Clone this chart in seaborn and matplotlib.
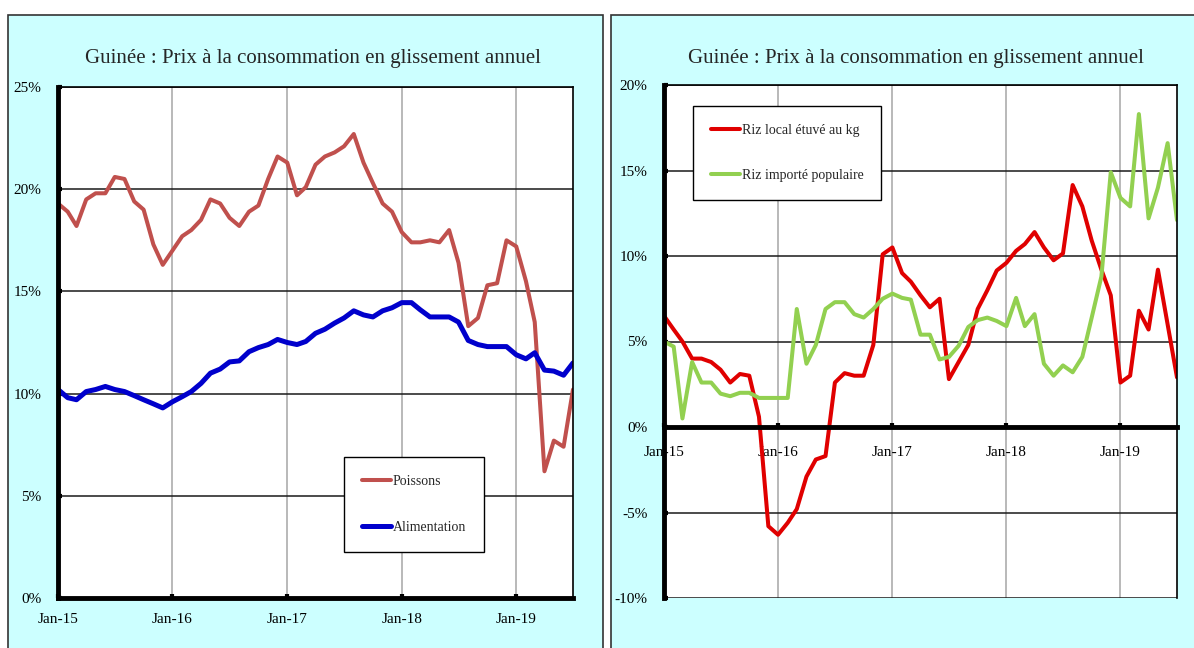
import matplotlib
matplotlib.use("Agg")
import matplotlib.pyplot as plt
import matplotlib.dates as mdates
from matplotlib.patches import Rectangle
from matplotlib.ticker import FuncFormatter, MultipleLocator
import pandas as pd
import seaborn as sns

# ==== Données (glissement annuel, en %) ====
months = pd.date_range("2015-01-01", periods=55, freq="MS")

poissons = [19.3, 18.9, 18.2, 19.5, 19.8, 19.8, 20.6, 20.5, 19.4, 19.0,
            17.3, 16.3, 17.0, 17.7, 18.0, 18.5, 19.5, 19.3, 18.6, 18.2,
            18.9, 19.2, 20.5, 21.6, 21.3, 19.7, 20.1, 21.2, 21.6, 21.8,
            22.1, 22.7, 21.3, 20.3, 19.3, 18.9, 17.9, 17.4, 17.4, 17.5,
            17.4, 18.0, 16.4, 13.3, 13.7, 15.3, 15.4, 17.5, 17.2, 15.5,
            13.5, 6.2, 7.7, 7.4, 10.2]
alimentation = [10.2, 9.8, 9.7, 10.1, 10.2, 10.35, 10.2, 10.1, 9.9, 9.7,
                9.5, 9.3, 9.6, 9.85, 10.1, 10.5, 11.0, 11.2, 11.55, 11.6,
                12.05, 12.25, 12.4, 12.65, 12.5, 12.4, 12.55, 12.95, 13.15, 13.45,
                13.7, 14.05, 13.85, 13.75, 14.05, 14.2, 14.45, 14.45, 14.1, 13.75,
                13.75, 13.75, 13.5, 12.6, 12.4, 12.3, 12.3, 12.3, 11.9, 11.7,
                12.0, 11.15, 11.1, 10.9, 11.5]
riz_local = [6.5, 5.7, 5.0, 4.0, 4.0, 3.8, 3.35, 2.6, 3.1, 3.0,
             0.6, -5.8, -6.3, -5.6, -4.8, -2.9, -1.9, -1.7, 2.6, 3.15,
             3.0, 3.0, 4.8, 10.1, 10.5, 9.0, 8.5, 7.7, 7.0, 7.5,
             2.8, 3.8, 4.8, 6.9, 8.0, 9.15, 9.6, 10.3, 10.7, 11.4,
             10.5, 9.75, 10.15, 14.15, 12.9, 10.9, 9.2, 7.7, 2.6, 3.0,
             6.8, 5.7, 9.2, 6.0, 2.9]
riz_importe = [5.0, 4.7, 0.5, 3.8, 2.6, 2.6, 1.95, 1.8, 2.0, 2.0,
               1.7, 1.7, 1.7, 1.7, 6.9, 3.7, 4.8, 6.9, 7.3, 7.3,
               6.6, 6.4, 6.9, 7.5, 7.8, 7.55, 7.45, 5.4, 5.4, 3.95,
               4.1, 4.75, 5.85, 6.25, 6.4, 6.2, 5.9, 7.55, 5.9, 6.6,
               3.7, 3.0, 3.6, 3.2, 4.1, 6.4, 8.8, 14.9, 13.4, 12.9,
               18.3, 12.2, 14.0, 16.6, 12.1]

titre = "Guinée : Prix à la consommation en glissement annuel"

sns.set_style("white")
plt.rcParams["font.family"] = ["Liberation Serif", "DejaVu Serif"]

fig = plt.figure(figsize=(11.94, 6.48), dpi=100)

# ==== Fonds cyan des deux cadres ====
W, H = 1194, 648
for x0, x1 in [(8, 603), (611, 1200)]:
    fig.patches.append(Rectangle((x0 / W, -0.05), (x1 - x0) / W, 1.05 - 15 / H,
                                 transform=fig.transFigure, facecolor="#CCFFFF",
                                 edgecolor="#333333", linewidth=1.2, zorder=-1))

ax1 = fig.add_axes([58 / W, 50 / H, 515 / W, 511 / H])
ax2 = fig.add_axes([664 / W, 50 / H, 513 / W, 513 / H])


def style_axes(ax, ymin, ymax):
    ax.set_facecolor("white")
    ax.set_xlim(months[0], months[-1])
    ax.set_ylim(ymin, ymax)
    ax.yaxis.set_major_locator(MultipleLocator(5))
    ax.yaxis.set_major_formatter(FuncFormatter(lambda v, _: f"{v:.0f}%"))
    ax.xaxis.set_major_locator(mdates.YearLocator())
    ax.xaxis.set_major_formatter(mdates.DateFormatter("%b-%y"))
    ax.grid(axis="y", color="#1a1a1a", linewidth=1.1)
    ax.grid(axis="x", color="#a6a6a6", linewidth=1.1)
    ax.set_axisbelow(True)
    for s in ("top", "right"):
        ax.spines[s].set_visible(True)
        ax.spines[s].set_color("black")
        ax.spines[s].set_linewidth(1.2)
    for s in ("left", "bottom"):
        ax.spines[s].set_visible(True)
        ax.spines[s].set_color("black")
        ax.spines[s].set_linewidth(3.5)
    ax.tick_params(direction="in", length=3, width=3, labelsize=11,
                   colors="black", bottom=True, left=True)
    ax.tick_params(axis="y", pad=12)
    ax.set_xlabel("")
    ax.set_ylabel("")


# ==== Graphique de gauche ====
sns.lineplot(x=months, y=poissons, ax=ax1, color="#C0504D", linewidth=2.9, label="Poissons")
sns.lineplot(x=months, y=alimentation, ax=ax1, color="#0000CC", linewidth=3.6, label="Alimentation")
style_axes(ax1, 0, 25)
ax1.tick_params(axis="x", pad=11)
leg1 = ax1.legend(loc="upper left", bbox_to_anchor=(0.555, 0.276), borderaxespad=0,
                  frameon=True, fancybox=False, edgecolor="black", facecolor="white",
                  framealpha=1, fontsize=10, handlelength=2.1, handletextpad=0.1,
                  labelspacing=2.4, borderpad=1.3)
leg1.get_frame().set_linewidth(1.0)

# ==== Graphique de droite ====
sns.lineplot(x=months, y=riz_local, ax=ax2, color="#E00000", linewidth=2.9, label="Riz local étuvé au kg")
sns.lineplot(x=months, y=riz_importe, ax=ax2, color="#92D050", linewidth=2.9, label="Riz importé populaire")
style_axes(ax2, -10, 20)
ax2.spines["bottom"].set_position(("data", 0))
ax2.tick_params(axis="x", pad=14)
leg2 = ax2.legend(loc="upper left", bbox_to_anchor=(0.0565, 0.959), borderaxespad=0,
                  frameon=True, fancybox=False, edgecolor="black", facecolor="white",
                  framealpha=1, fontsize=10, handlelength=2.1, handletextpad=0.1,
                  labelspacing=2.3, borderpad=1.3)
leg2.get_frame().set_linewidth(1.0)

# ==== Titres ====
fig.text(313 / W, 1 - 58 / H, titre, ha="center", va="center", fontsize=15)
fig.text(916 / W, 1 - 58 / H, titre, ha="center", va="center", fontsize=15)

fig.savefig("out.png", dpi=100)
plt.close()
